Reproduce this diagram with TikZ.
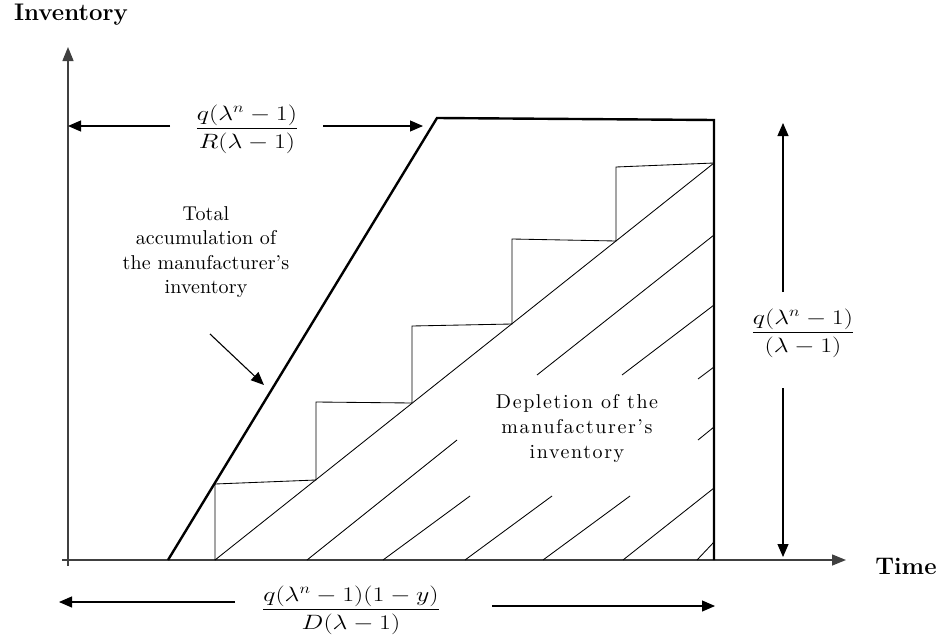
\documentclass[tikz,border=0pt]{standalone}
\usepackage{amsmath}
\usepackage{graphicx}
\usepackage{fontspec}
\newfontfamily\spacedfont{lmroman10-regular.otf}[Ligatures=TeX,LetterSpace=8]
\newfontfamily\slightfont{lmroman10-regular.otf}[Ligatures=TeX,LetterSpace=0.6]
\usetikzlibrary{arrows.meta}
\newcommand{\wfrac}[2]{\scalebox{1.25}[1]{$\dfrac{#1}{#2}$}}
\begin{document}
\begin{tikzpicture}[x=1pt,y=-1pt,
  axis/.style={draw=black!75,line width=1.4pt},
  thick outline/.style={draw=black,line width=2.4pt,line join=miter},
  thinline/.style={draw=black,line width=0.85pt},
  harrow/.style={draw=black,line width=1.1pt,-{Triangle[length=13pt,width=11pt]}},
  axarrow/.style={axis,-{Triangle[length=14pt,width=11pt]}},
  lbl/.style={font=\fontsize{20}{24.5}\selectfont\slightfont,align=center,inner sep=0pt},
  dlbl/.style={font=\fontsize{20}{25}\selectfont\spacedfont,align=center,inner sep=0pt},
  frac/.style={font=\fontsize{21}{24}\selectfont,inner sep=0pt},
  axlbl/.style={font=\fontsize{24}{26}\selectfont\bfseries,inner sep=0pt}]
\useasboundingbox (0,0) rectangle (937,637);
% coordinates
\coordinate (O) at (68,560);
\coordinate (Ybot) at (68,566);
\coordinate (Ytop) at (68,47);
\coordinate (Xleft) at (62,560);
\coordinate (Xright) at (846,560);
\coordinate (A) at (168,560);
\coordinate (B) at (437,118);
\coordinate (C) at (714,120);
\coordinate (D) at (714,560);
\coordinate (S0) at (215,560);
\coordinate (S1) at (714,163);
% axes
\draw[axarrow] (Ybot) -- (Ytop);
\draw[axarrow] (Xleft) -- (Xright);
\node[axlbl] (invlbl) at (71,15) {Inventory};
\node[axlbl] (timelbl) at (906,566) {Time};
% diagonal and staircase
\draw[thinline] (S0) -- (S1);
\draw[thinline] (S0) -- (215,484) -- (316,480) -- (316,402) -- (412,403) -- (412,326)
  -- (512,324) -- (512,239) -- (616,241) -- (616,167) -- (S1);
% hatch lines
\foreach \a/\b in {{307,560}/{457,440},{537,375}/{714,235},{383,560}/{470,496},
  {622,375}/{714,305},{465,560}/{552,496},{698,379}/{714,367},{543,560}/{630,496},
  {698,440}/{714,427},{623,560}/{714,488},{697,560}/{714,542}}
  \draw[thinline] (\a) -- (\b);
% thick outline
\draw[thick outline] (A) -- (B) -- (C) -- (D);
% top label
\node[frac] (ftop) at (247,129) {\wfrac{q(\lambda^{n}-1)}{R(\lambda-1)}};
\coordinate (t1) at (170,126);
\coordinate (t0) at (68,126);
\coordinate (t2) at (323,126);
\coordinate (t3) at (423,126);
\draw[harrow] (t1) -- (t0);
\draw[harrow] (t2) -- (t3);
% right label
\node[frac] (fright) at (803,333) {\wfrac{q(\lambda^{n}-1)}{(\lambda-1)}};
\coordinate (r1) at (783,292);
\coordinate (r2) at (783,123);
\coordinate (r3) at (783,388);
\coordinate (r4) at (783,557);
\draw[harrow] (r1) -- (r2);
\draw[harrow] (r3) -- (r4);
% bottom label
\node[frac] (fbot) at (351,610) {\wfrac{q(\lambda^{n}-1)(1-y)}{D(\lambda-1)}};
\coordinate (b1) at (235,602);
\coordinate (b0) at (59,602);
\coordinate (b2) at (492,606);
\coordinate (b3) at (715,606);
\draw[harrow] (b1) -- (b0);
\draw[harrow] (b2) -- (b3);
% text labels
\node[lbl] (total) at (206,252) {Total\\accumulation of\\the manufacturer’s\\inventory};
\coordinate (p1) at (210,334);
\coordinate (p2) at (264,385);
\draw[harrow] (p1) -- (p2);
\node[dlbl] (depl) at (577,428) {Depletion of the\\manufacturer’s\\inventory};
\end{tikzpicture}
\end{document}
